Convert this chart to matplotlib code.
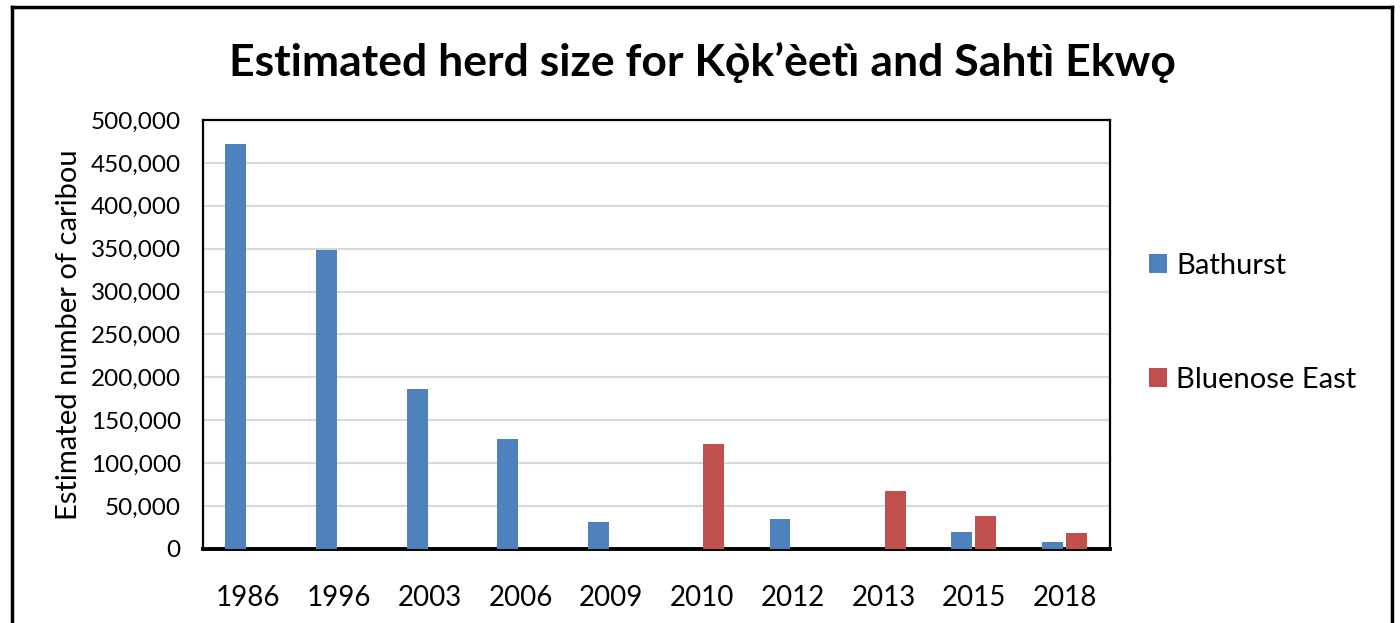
import numpy as np
import matplotlib.pyplot as plt
from matplotlib.lines import Line2D
from matplotlib.ticker import FuncFormatter

plt.rcParams['font.family'] = ['Lato', 'DejaVu Sans']

years = ['1986', '1996', '2003', '2006', '2009', '2010', '2012', '2013', '2015', '2018']
bathurst = [472000, 349000, 186000, 128000, 32000, np.nan, 35000, np.nan, 20000, 8000]
bluenose_east = [np.nan, np.nan, np.nan, np.nan, np.nan, 122000, np.nan, 68000, 39000, 19000]

blue = '#4F81BD'
red = '#C0504D'

fig = plt.figure(figsize=(14, 6.23), dpi=100)
ax = fig.add_axes([0.145, 0.1188, 0.648, 0.6886])

x = np.arange(len(years))
w = 0.23
ax.bar(x - 0.14, bathurst, w, color=blue, label='Bathurst', zorder=3)
ax.bar(x + 0.13, bluenose_east, w, color=red, label='Bluenose East', zorder=3)

ax.set_xlim(-0.5, len(years) - 0.5)
ax.set_ylim(0, 500000)
ax.set_yticks(np.arange(0, 500001, 50000))
ax.yaxis.set_major_formatter(FuncFormatter(lambda v, p: f'{int(v):,}'))
ax.set_xticks(x)
ax.set_xticklabels(years)
ax.tick_params(axis='y', length=0, pad=16, labelsize=17.5)
ax.tick_params(axis='x', length=0, pad=26, labelsize=20)
ax.grid(axis='y', color='#D9D9D9', linewidth=1.5, zorder=0)

for s in ['left', 'top', 'right']:
    ax.spines[s].set_linewidth(1.6)
ax.spines['bottom'].set_linewidth(2.8)

ax.set_ylabel('Estimated number of caribou', fontsize=21, labelpad=6)

fig.text(0.502, 0.90, 'Estimated herd size for K\u01eb\u0300k\u2019\u00e8et\u0131\u0300 and Saht\u00ec Ekw\u01eb',
         ha='center', va='center', fontsize=32, fontweight='bold')

leg = ax.legend(loc='center left', bbox_to_anchor=(1.014, 0.527), frameon=False,
                fontsize=21, labelspacing=3.0, handlelength=0.62, handleheight=0.62,
                handletextpad=0.3)

# outer border
for xs, ys in [([12/1400, 12/1400], [-0.05, 1 - 7/623]),
               ([12/1400, 1392/1400], [1 - 7/623, 1 - 7/623]),
               ([1392/1400, 1392/1400], [1 - 7/623, -0.05])]:
    fig.add_artist(Line2D(xs, ys, transform=fig.transFigure, color='black', linewidth=2.5))

fig.savefig('out.png', dpi=100)
